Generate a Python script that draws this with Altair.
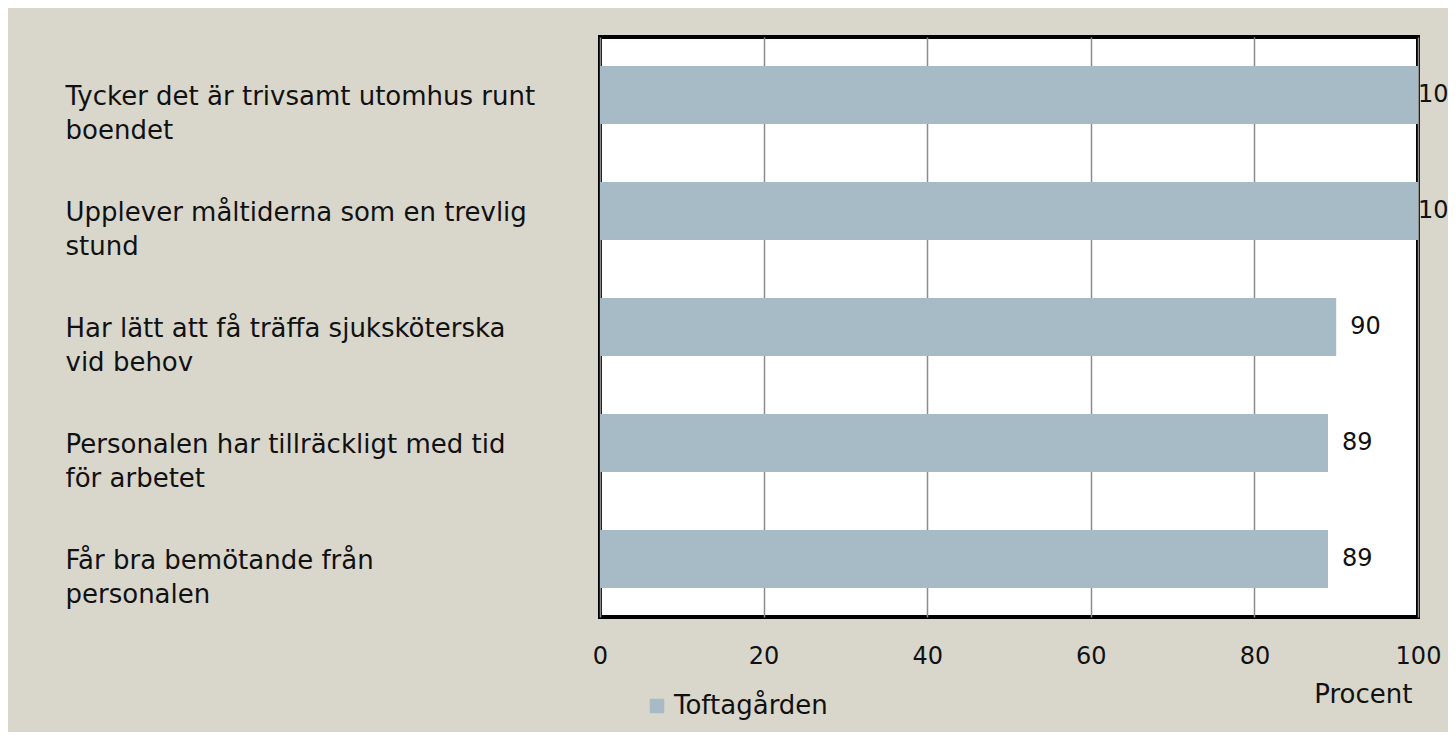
import altair as alt
import pandas as pd

categories = [
    "Tycker det är trivsamt utomhus runt|boendet",
    "Upplever måltiderna som en trevlig|stund",
    "Har lätt att få träffa sjuksköterska|vid behov",
    "Personalen har tillräckligt med tid|för arbetet",
    "Får bra bemötande från|personalen",
]
values = [100, 100, 90, 89, 89]
series = "Toftagården"
x_ticks = [0, 20, 40, 60, 80, 100]

FONT = "DejaVu Sans"
BG = "#d9d7cc"
BAR = "#a7bbc6"

df = pd.DataFrame({"cat": categories, "val": values, "series": series})

y_enc = alt.Y(
    "cat:N",
    sort=categories,
    title=None,
    scale=alt.Scale(paddingInner=0.5, paddingOuter=0.25),
    axis=alt.Axis(
        ticks=False,
        domain=False,
        labelAlign="left",
        labelBaseline="top",
        labelOffset=-11,
        labelPadding=535,
        labelLimit=700,
        labelFont=FONT,
        labelFontSize=26,
        labelColor="#111111",
        labelLineHeight=34,
        labelExpr="split(datum.label, '|')",
    ),
)
x_enc = alt.X(
    "val:Q",
    scale=alt.Scale(domain=[0, 100], nice=False),
    axis=alt.Axis(
        values=x_ticks,
        ticks=False,
        domain=False,
        grid=True,
        gridColor="#8c8c8c",
        gridWidth=1.5,
        labelFlush=False,
        labelFont=FONT,
        labelFontSize=24,
        labelColor="#111111",
        labelPadding=27,
        title="Procent",
        titleFont=FONT,
        titleFontSize=26,
        titleFontWeight="normal",
        titleColor="#111111",
        titleAnchor="end",
        titleAlign="right",
        titleBaseline="middle",
        titleX=812,
        titleY=77,
    ),
)

bars = alt.Chart(df).mark_bar().encode(
    y=y_enc,
    x=x_enc,
    color=alt.Color(
        "series:N",
        scale=alt.Scale(range=[BAR]),
        legend=alt.Legend(
            title=None,
            orient="none",
            legendX=44,
            legendY=656,
            symbolType="square",
            symbolSize=210,
            symbolStrokeWidth=0,
            labelFont=FONT,
            labelFontSize=26,
            labelColor="#111111",
            labelOffset=4,
        ),
    ),
)

labels = (
    alt.Chart(df)
    .transform_calculate(lx="min(datum.val, 98.3)")
    .mark_text(align="left", baseline="middle", dx=14, font=FONT, fontSize=24, color="#111111")
    .encode(
        y=alt.Y("cat:N", sort=categories),
        x=alt.X("lx:Q"),
        text=alt.Text("val:Q"),
    )
)

chart = (
    alt.layer(bars, labels)
    .properties(
        width=818,
        height=580,
        background=BG,
        padding={"left": 592, "top": 29, "right": 30, "bottom": 115},
        autosize=alt.AutoSizeParams(type="none"),
    )
    .configure_view(fill="white", stroke="black", strokeWidth=4)
)

chart.save("out.html", embed_options={"renderer": "svg", "actions": False})
